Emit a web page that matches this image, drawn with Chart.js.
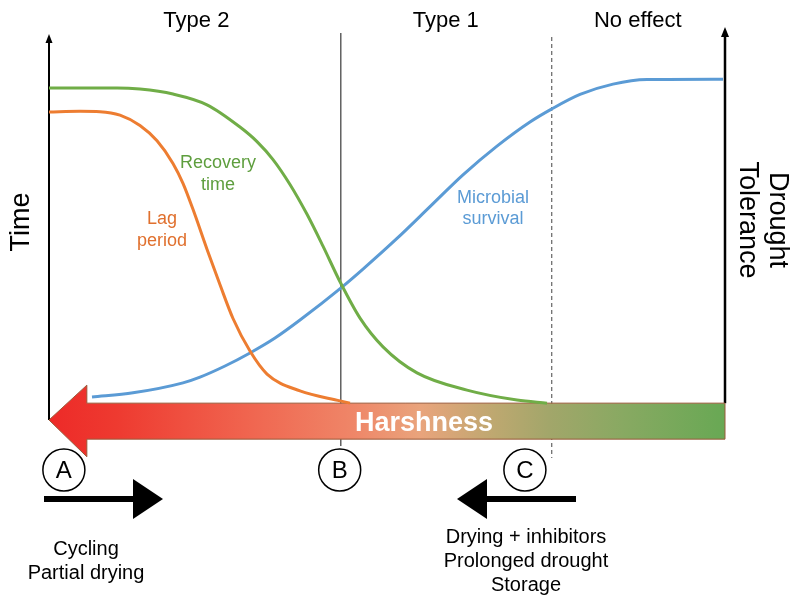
<!DOCTYPE html>
<html>
<head>
<meta charset="utf-8">
<script src="https://cdn.jsdelivr.net/npm/chart.js@4"></script>
<style>
  html, body { margin: 0; padding: 0; background: #fff; }
  #wrap { width: 793px; height: 597px; }
</style>
</head>
<body>
<div id="wrap"><canvas id="chart" width="793" height="597"></canvas></div>
<script>
// harshness runs right (mild) to left (harsh), x and y are 0-100 on both axes
const recoveryX = [0, 4.59, 10.06, 13.46, 18.34, 23.37, 28.25, 30.77, 33.14, 35.65, 38.17, 40.53, 43.05, 46.01, 49.41, 54.44, 61.83, 69.23, 73.67];
const recoveryY = [86.7, 86.7, 86.7, 86.4, 85.1, 82.3, 76.5, 72.7, 68.0, 61.5, 53.7, 45.4, 36.1, 26.6, 19.1, 12.3, 7.8, 5.2, 4.4];

const lagX = [0, 4.59, 7.54, 10.50, 13.46, 15.98, 18.34, 19.82, 21.30, 23.37, 25.30, 27.22, 29.73, 32.25, 37.13, 43.05, 44.53];
const lagY = [80.4, 80.6, 80.5, 79.6, 76.9, 72.9, 67.0, 61.8, 55.0, 44.6, 35.3, 26.5, 18.0, 12.0, 7.6, 5.0, 4.4];

const survivalX = [6.36, 12.43, 19.82, 22.34, 26.04, 29.73, 33.43, 37.13, 43.34, 46.45, 51.48, 56.36, 61.24, 66.27, 71.15, 74.26, 78.55, 83.43, 88.46, 99.70];
const survivalY = [6.0, 7.1, 9.7, 11.2, 14.1, 17.5, 21.4, 26.1, 34.7, 39.4, 47.4, 55.7, 64.0, 71.5, 77.8, 81.1, 85.0, 87.7, 88.9, 89.0];

const zoneNames = ["Type 2", "Type 1", "No effect"];
const zoneCentres = [21.8, 58.7, 87.1];
const markerNames = ["A", "B", "C"];
const markerX = [2.2, 43.0, 70.4];
const boundaryB = 43.1;
const boundaryC = 74.3;

function toPoints(xs, ys) {
    return xs.map((x, i) => ({ x: x, y: ys[i] }));
}

const fontFamily = "'Liberation Sans', Arial, sans-serif";

const diagramPlugin = {
    id: "diagram",
    beforeDatasetsDraw(chart) {
        const ctx = chart.ctx;
        const xs = chart.scales.x;
        const ys = chart.scales.y;
        const px = (v) => xs.getPixelForValue(v);
        const py = (v) => ys.getPixelForValue(v);
        ctx.save();

        // zone boundaries
        ctx.strokeStyle = "#111";
        ctx.lineWidth = 1;
        ctx.beginPath();
        ctx.moveTo(px(boundaryB) + 0.5, py(100) - 4);
        ctx.lineTo(px(boundaryB) + 0.5, py(-6.8));
        ctx.stroke();
        ctx.strokeStyle = "#444";
        ctx.setLineDash([4, 3]);
        ctx.beginPath();
        ctx.moveTo(px(boundaryC) + 0.5, py(100));
        ctx.lineTo(px(boundaryC) + 0.5, py(-9.9));
        ctx.stroke();
        ctx.setLineDash([]);

        // left axis (Time)
        ctx.strokeStyle = "#000";
        ctx.lineWidth = 2;
        ctx.beginPath();
        ctx.moveTo(px(0), py(0));
        ctx.lineTo(px(0), py(100) + 4);
        ctx.stroke();
        ctx.fillStyle = "#000";
        ctx.beginPath();
        ctx.moveTo(px(0), py(100) - 3);
        ctx.lineTo(px(0) - 3.5, py(100) + 6);
        ctx.lineTo(px(0) + 3.5, py(100) + 6);
        ctx.closePath();
        ctx.fill();

        // right axis (Drought tolerance)
        ctx.lineWidth = 2.5;
        ctx.beginPath();
        ctx.moveTo(px(100), py(4.4));
        ctx.lineTo(px(100), py(100) - 4);
        ctx.stroke();
        ctx.beginPath();
        ctx.moveTo(px(100), py(100) - 10);
        ctx.lineTo(px(100) - 4, py(100));
        ctx.lineTo(px(100) + 4, py(100));
        ctx.closePath();
        ctx.fill();

        // harshness arrow
        const left = px(0), right = px(100), base = px(5.6);
        const top = py(4.4), bot = py(-5.0), mid = py(0);
        const headTop = py(9.1), headBot = py(-9.6);
        const grad = ctx.createLinearGradient(left, 0, right, 0);
        grad.addColorStop(0.0, "#ED2A28");
        grad.addColorStop(0.1, "#EE3A30");
        grad.addColorStop(0.3, "#F06650");
        grad.addColorStop(0.45, "#EF8668");
        grad.addColorStop(0.55, "#E9A47C");
        grad.addColorStop(0.66, "#BDA870");
        grad.addColorStop(0.74, "#A2A66A");
        grad.addColorStop(0.85, "#88A962");
        grad.addColorStop(1.0, "#68A854");
        ctx.fillStyle = grad;
        ctx.strokeStyle = "#9A5A3A";
        ctx.lineWidth = 1;
        ctx.beginPath();
        ctx.moveTo(left, mid);
        ctx.lineTo(base, headTop);
        ctx.lineTo(base, top);
        ctx.lineTo(right, top);
        ctx.lineTo(right, bot);
        ctx.lineTo(base, bot);
        ctx.lineTo(base, headBot);
        ctx.closePath();
        ctx.fill();
        ctx.stroke();
        ctx.restore();
    },
    afterDatasetsDraw(chart) {
        const ctx = chart.ctx;
        const xs = chart.scales.x;
        const px = (v) => xs.getPixelForValue(v);
        ctx.save();
        ctx.textAlign = "center";
        ctx.textBaseline = "middle";

        // zone headings
        ctx.fillStyle = "#000";
        ctx.font = "22px " + fontFamily;
        zoneNames.forEach((name, i) => ctx.fillText(name, px(zoneCentres[i]), 21));

        // axis titles
        ctx.font = "27px " + fontFamily;
        ctx.save();
        ctx.translate(22, 222);
        ctx.rotate(-Math.PI / 2);
        ctx.fillText("Time", 0, 0);
        ctx.restore();
        ctx.save();
        ctx.translate(762, 220);
        ctx.rotate(Math.PI / 2);
        ctx.fillText("Drought", 0, -15);
        ctx.fillText("Tolerance", 0, 15);
        ctx.restore();

        // curve labels
        ctx.font = "18px " + fontFamily;
        ctx.fillStyle = "#5E9E3E";
        ctx.fillText("Recovery", 218, 163);
        ctx.fillText("time", 218, 185);
        ctx.fillStyle = "#E0702E";
        ctx.fillText("Lag", 162, 219);
        ctx.fillText("period", 162, 241);
        ctx.fillStyle = "#5B9BD5";
        ctx.fillText("Microbial", 493, 198);
        ctx.fillText("survival", 493, 219);

        // harshness text
        ctx.fillStyle = "#fff";
        ctx.font = "bold 27px " + fontFamily;
        ctx.fillText("Harshness", 424, 424);

        // markers
        ctx.strokeStyle = "#000";
        ctx.lineWidth = 1.5;
        ctx.font = "24px " + fontFamily;
        markerNames.forEach((m, i) => {
            const cx = px(markerX[i]);
            ctx.fillStyle = "#fff";
            ctx.beginPath();
            ctx.arc(cx, 470, 21, 0, Math.PI * 2);
            ctx.fill();
            ctx.stroke();
            ctx.fillStyle = "#000";
            ctx.fillText(m, cx, 471);
        });

        // direction arrows
        ctx.fillRect(44, 496, 90, 6);
        ctx.beginPath();
        ctx.moveTo(163, 499);
        ctx.lineTo(133, 479);
        ctx.lineTo(133, 519);
        ctx.closePath();
        ctx.fill();
        ctx.fillRect(486, 496, 90, 6);
        ctx.beginPath();
        ctx.moveTo(457, 499);
        ctx.lineTo(487, 479);
        ctx.lineTo(487, 519);
        ctx.closePath();
        ctx.fill();

        // conditions
        ctx.font = "20px " + fontFamily;
        ctx.fillText("Cycling", 86, 549);
        ctx.fillText("Partial drying", 86, 573);
        ctx.fillText("Drying + inhibitors", 526, 537);
        ctx.fillText("Prolonged drought", 526, 561);
        ctx.fillText("Storage", 526, 585);
        ctx.restore();
    }
};

const lineStyle = {
    borderWidth: 3,
    pointRadius: 0,
    fill: false,
    cubicInterpolationMode: "monotone",
    clip: false
};

new Chart(document.getElementById("chart").getContext("2d"), {
    type: "line",
    data: {
        datasets: [
            Object.assign({ label: "Recovery time", data: toPoints(recoveryX, recoveryY), borderColor: "#70AD47" }, lineStyle),
            Object.assign({ label: "Lag period", data: toPoints(lagX, lagY), borderColor: "#ED7D31" }, lineStyle),
            Object.assign({ label: "Microbial survival", data: toPoints(survivalX, survivalY), borderColor: "#5B9BD5" }, lineStyle)
        ]
    },
    options: {
        responsive: false,
        animation: false,
        layout: { padding: { left: 49, right: 68, top: 37, bottom: 177 } },
        scales: {
            x: { type: "linear", min: 0, max: 100, display: false },
            y: { type: "linear", min: 0, max: 100, display: false }
        },
        plugins: {
            legend: { display: false },
            tooltip: { enabled: false }
        }
    },
    plugins: [diagramPlugin]
});
</script>
</body>
</html>
